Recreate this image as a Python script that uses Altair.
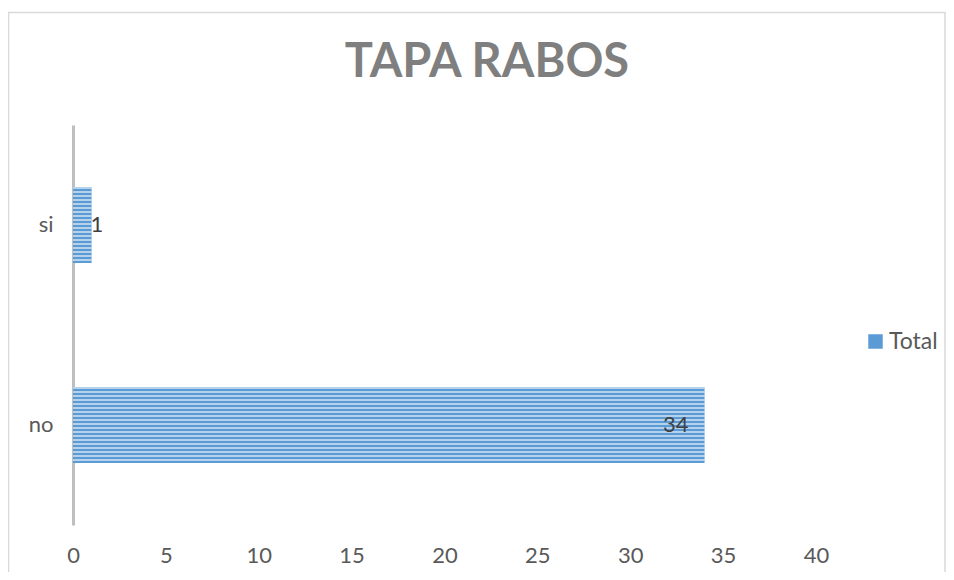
import altair as alt
import pandas as pd

categories = ["si", "no"]
values = [1, 34]
series = ["Total", "Total"]
x_ticks = [0, 5, 10, 15, 20, 25, 30, 35, 40]
title_text = ["TAPA RABOS"]

df = pd.DataFrame({"cat": categories, "v": values, "series": series})
frame_df = pd.DataFrame({"k": [0]})
title_df = pd.DataFrame({"t": title_text})

W, H = 743, 400
FONT = "Lato"

# horizontal stripes emulated with a sharp-stop gradient
n_stripes = 19
stops = []
for i in range(n_stripes):
    a = i / n_stripes
    m = (i + 0.5) / n_stripes
    b = (i + 1) / n_stripes
    stops += [
        alt.GradientStop(offset=a, color="rgba(255,255,255,0.55)"),
        alt.GradientStop(offset=m, color="rgba(255,255,255,0.55)"),
        alt.GradientStop(offset=m, color="rgba(255,255,255,0)"),
        alt.GradientStop(offset=b, color="rgba(255,255,255,0)"),
    ]
stripe_fill = alt.LinearGradient(gradient="linear", stops=stops, x1=0, x2=0, y1=0, y2=1)

y_enc = alt.Y(
    "cat:N",
    sort=categories,
    scale=alt.Scale(paddingInner=0.62, paddingOuter=0.31),
    axis=alt.Axis(
        title=None, ticks=False, domainColor="#bfbfbf", domainWidth=3,
        labelFont=FONT, labelFontSize=22, labelColor="#595959", labelPadding=20,
    ),
)
x_enc = alt.X(
    "v:Q",
    scale=alt.Scale(domain=[0, 40], nice=False),
    axis=alt.Axis(
        title=None, values=x_ticks, ticks=False, domain=False, grid=False,
        labelFlush=False,
        labelFont=FONT, labelFontSize=22, labelColor="#595959", labelPadding=20,
    ),
)

bars = alt.Chart(df).mark_bar().encode(
    x=x_enc,
    y=y_enc,
    color=alt.Color(
        "series:N",
        scale=alt.Scale(range=["#5b9bd5"]),
        legend=alt.Legend(
            title=None, orient="none", legendX=791, legendY=205, padding=0,
            symbolType="square", symbolSize=210, symbolStrokeWidth=0,
            labelFont=FONT, labelFontSize=23, labelColor="#595959", labelOffset=2,
        ),
    ),
)

stripes = alt.Chart(df).mark_bar(color=stripe_fill).encode(x="v:Q", y=alt.Y("cat:N", sort=categories))

labels_in = alt.Chart(df).transform_filter("datum.v > 5").mark_text(
    align="right", dx=-16, font=FONT, fontSize=22, color="#404040"
).encode(x="v:Q", y=alt.Y("cat:N", sort=categories), text="v:Q")

labels_out = alt.Chart(df).transform_filter("datum.v <= 5").mark_text(
    align="left", dx=-1, font=FONT, fontSize=22, color="#404040"
).encode(x="v:Q", y=alt.Y("cat:N", sort=categories), text="v:Q")

frame = alt.Chart(frame_df).mark_rect(fill=None, stroke="#d9d9d9", strokeWidth=1.5, clip=False).encode(
    x=alt.value(-64.5), x2=alt.value(872), y=alt.value(-112.5), y2=alt.value(470)
)

title = alt.Chart(title_df).mark_text(
    font=FONT, fontSize=47, fontWeight="bold", color="#7f7f7f",
    align="center", baseline="alphabetic", clip=False,
).encode(x=alt.value(414), y=alt.value(-48), text="t:N")

chart = alt.layer(frame, bars, stripes, labels_in, labels_out, title).properties(
    width=W,
    height=H,
    padding={"left": 65, "top": 117, "right": 130, "bottom": 47},
    autosize=alt.AutoSizeParams(type="none"),
).configure_view(stroke=None)

chart.save("out.html", embed_options={"renderer": "svg", "actions": False})
